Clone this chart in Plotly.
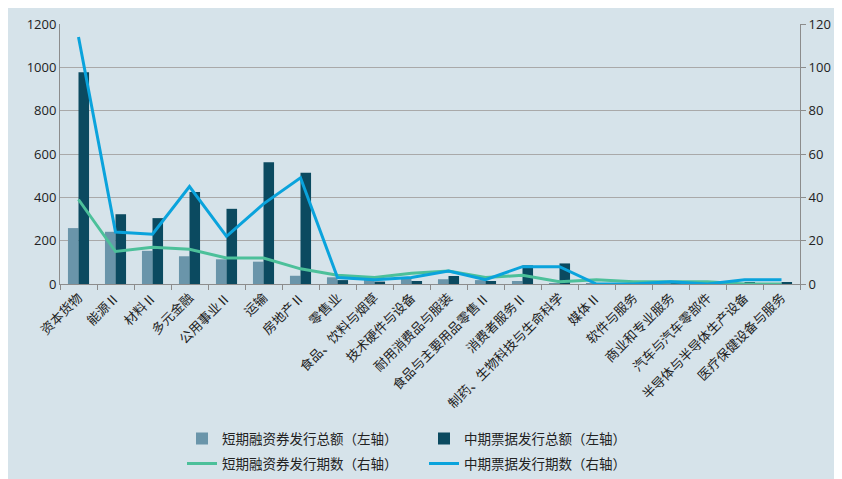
import plotly.graph_objects as go

categories = ["资本货物", "能源Ⅱ", "材料Ⅱ", "多元金融", "公用事业Ⅱ", "运输", "房地产Ⅱ", "零售业",
              "食品、饮料与烟草", "技术硬件与设备", "耐用消费品与服装", "食品与主要用品零售Ⅱ",
              "消费者服务Ⅱ", "制药、生物科技与生命科学", "媒体Ⅱ", "软件与服务", "商业和专业服务",
              "汽车与汽车零部件", "半导体与半导体生产设备", "医疗保健设备与服务"]

short_amount = [258, 241, 153, 128, 114, 103, 38, 31, 20, 23, 22, 18, 14, 2, 3, 2, 2, 2, 3, 1]
mid_amount = [977, 322, 304, 425, 347, 562, 514, 18, 11, 14, 37, 14, 86, 95, 2, 1, 2, 1, 9, 5]
short_count = [39, 15, 17, 16, 12, 12, 7, 4, 3, 5, 6, 3, 4, 1, 2, 1, 1, 1, 0, 0]
mid_count = [114, 24, 23, 45, 22, 37, 49, 3, 2, 3, 6, 2, 8, 8, 0, 0, 1, 0, 2, 2]

left_ticks = [0, 200, 400, 600, 800, 1000, 1200]
right_ticks = [0, 20, 40, 60, 80, 100, 120]

names = ["短期融资券发行总额（左轴）", "中期票据发行总额（左轴）",
         "短期融资券发行期数（右轴）", "中期票据发行期数（右轴）"]

BG = "#D6E3EA"
CJK = "Noto Sans CJK SC, sans-serif"
NUM = "Open Sans, Liberation Sans, sans-serif"

fig = go.Figure()
fig.add_trace(go.Bar(x=categories, y=short_amount, name=names[0], marker_color="#6A95AA",
                     marker_line_width=0, legend="legend"))
fig.add_trace(go.Bar(x=categories, y=mid_amount, name=names[1], marker_color="#0B4A60",
                     marker_line_width=0, legend="legend"))
fig.add_trace(go.Scatter(x=categories, y=short_count, name=names[2], mode="lines",
                         line=dict(color="#4CC09A", width=3), yaxis="y2", legend="legend2"))
fig.add_trace(go.Scatter(x=categories, y=mid_count, name=names[3], mode="lines",
                         line=dict(color="#0AA3DC", width=3), yaxis="y2", legend="legend2"))

L, R, T, B = 52, 50, 15.5, 203
pw = 842 - L - R
ph = 479 - T - B

legend_common = dict(orientation="h", xanchor="left", yanchor="middle",
                     entrywidth=197, entrywidthmode="pixels", bgcolor="rgba(0,0,0,0)",
                     traceorder="normal", itemwidth=30,
                     font=dict(size=13.5, family=CJK, color="#222222"))

fig.update_layout(
    width=842, height=479,
    margin=dict(l=L, r=R, t=T, b=B, autoexpand=False),
    paper_bgcolor=BG,
    plot_bgcolor="rgba(0,0,0,0)",
    barmode="group", bargap=0.43, bargroupgap=0,
    font=dict(family=NUM, size=13, color="#333333"),
    xaxis=dict(tickangle=-45, tickson="boundaries", ticks="outside", ticklen=5,
               tickcolor="#8C8C8C", showline=True, linecolor="#8C8C8C", linewidth=1,
               tickfont=dict(size=13, family=CJK, color="#222222"),
               showgrid=False),
    yaxis=dict(range=[0, 1200], tickvals=left_ticks, showgrid=True, gridcolor="#A9A9A9",
               gridwidth=1, showline=True, linecolor="#8C8C8C", linewidth=1, zeroline=False,
               tickfont=dict(size=13, color="#222222")),
    yaxis2=dict(range=[0, 120], tickvals=right_ticks, overlaying="y", side="right",
                showgrid=False, showline=True, linecolor="#8C8C8C", linewidth=1,
                ticks="outside", ticklen=5, tickcolor="#8C8C8C", zeroline=False,
                tickfont=dict(size=13, color="#222222")),
    legend=dict(x=(182 - 8 - L) / pw, y=-(439 - 8 - (479 - B)) / ph, **legend_common),
    legend2=dict(x=(182 - 8 - L) / pw, y=-(464 - 8 - (479 - B)) / ph, **legend_common),
)

fig.write_html("out.html")
